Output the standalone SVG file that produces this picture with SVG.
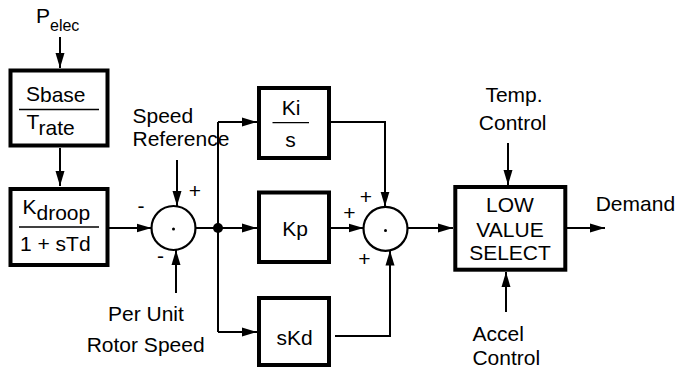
<svg xmlns="http://www.w3.org/2000/svg" width="678" height="369" viewBox="0 0 678 369">
<style>
  text { font-family: "Liberation Sans", Arial, sans-serif; font-size: 21px; fill: #000; }
  .blk { fill: #fff; stroke: #000; stroke-width: 4; }
  .frac { stroke: #000; stroke-width: 1.3; }
  .sum { fill: #fff; stroke: #000; stroke-width: 2.2; }
  .ln { fill: none; stroke: #000; stroke-width: 2; }
  .arr { fill: none; stroke: #000; stroke-width: 2; marker-end: url(#ah); }
  .mid { text-anchor: middle; }
</style>
<defs>
  <marker id="ah" markerUnits="userSpaceOnUse" markerWidth="16" markerHeight="10" refX="15" refY="5" orient="auto">
    <path d="M0,0.5 L15,5 L0,9.5 Z" fill="#000"/>
  </marker>
</defs>

<g id="connectors">
  <line class="arr" x1="60" y1="37" x2="60" y2="68"/>
  <line class="arr" x1="60" y1="148" x2="60" y2="186"/>
  <line class="arr" x1="109" y1="228" x2="151.5" y2="228"/>
  <line class="arr" x1="177" y1="160" x2="177" y2="206"/>
  <line class="arr" x1="176" y1="293" x2="176" y2="250"/>
  <line class="ln" x1="196" y1="228" x2="218" y2="228"/>
  <polyline class="ln" points="218,122 218,332"/>
  <line class="arr" x1="218" y1="122" x2="257" y2="122"/>
  <line class="arr" x1="218" y1="228" x2="257" y2="228"/>
  <line class="arr" x1="218" y1="332" x2="257" y2="332"/>
  <polyline class="arr" points="331,122 385,122 385,206.5"/>
  <line class="arr" x1="331" y1="228" x2="363.5" y2="228"/>
  <polyline class="arr" points="335,336 390,336 390,250.5"/>
  <line class="arr" x1="407.5" y1="228" x2="453" y2="228"/>
  <line class="arr" x1="508" y1="143" x2="508" y2="185"/>
  <line class="arr" x1="506" y1="312" x2="506" y2="272"/>
  <line class="arr" x1="567" y1="228" x2="605" y2="228"/>
</g>

<g id="pelec">
  <text x="36" y="23">P<tspan font-size="16" dy="8">elec</tspan></text>
</g>

<g id="sbase-trate">
  <rect class="blk" x="10.5" y="70.5" width="97" height="75"/>
  <text x="26" y="101">S<tspan dy="1">base</tspan></text>
  <line class="frac" x1="19" y1="109.5" x2="99" y2="109.5"/>
  <text x="26.5" y="128.5">T<tspan dy="6">rate</tspan></text>
</g>

<g id="kdroop">
  <rect class="blk" x="10.5" y="189" width="97" height="76"/>
  <text x="22.5" y="213.5">K<tspan dy="6">droop</tspan></text>
  <line class="frac" x1="19" y1="227" x2="99" y2="227"/>
  <text x="20" y="251">1 + sTd</text>
</g>

<g id="sum1">
  <circle class="sum" cx="173.5" cy="228" r="22"/>
  <circle cx="173.5" cy="229" r="1.5" fill="#000"/>
  <text class="mid" x="141" y="212.5">-</text>
  <text class="mid" x="195" y="198">+</text>
  <text class="mid" x="160.5" y="262.5">-</text>
</g>

<g id="junction">
  <circle cx="218" cy="228" r="5" fill="#000"/>
</g>

<g id="speed-ref">
  <text x="132.5" y="123.3">Speed</text>
  <text x="132.5" y="145.7">Reference</text>
</g>

<g id="rotor-speed">
  <text x="108" y="320.7">Per Unit</text>
  <text x="86.7" y="351.7">Rotor Speed</text>
</g>

<g id="ki">
  <rect class="blk" x="259" y="88" width="70" height="70"/>
  <text class="mid" x="291" y="115">Ki</text>
  <line class="frac" x1="272.5" y1="122.7" x2="309" y2="122.7"/>
  <text class="mid" x="290.5" y="147">s</text>
</g>

<g id="kp">
  <rect class="blk" x="259" y="192.5" width="70" height="69.5"/>
  <text class="mid" x="295" y="236">Kp</text>
</g>

<g id="skd">
  <rect class="blk" x="259" y="298" width="70" height="67"/>
  <text class="mid" x="294.7" y="345">sKd</text>
</g>

<g id="sum2">
  <circle class="sum" cx="385.5" cy="228.8" r="22"/>
  <circle cx="385.5" cy="230.5" r="1.5" fill="#000"/>
  <text class="mid" x="366" y="204">+</text>
  <text class="mid" x="349.3" y="220">+</text>
  <text class="mid" x="364.3" y="266.3">+</text>
</g>

<g id="lvs">
  <rect class="blk" x="455.3" y="187" width="110" height="82.7"/>
  <text class="mid" x="510" y="211.7" font-size="20">LOW</text>
  <text class="mid" x="510" y="236.7" font-size="20">VALUE</text>
  <text class="mid" x="510" y="260" font-size="20">SELECT</text>
</g>

<g id="temp-control">
  <text class="mid" x="514" y="101.7">Temp.</text>
  <text class="mid" x="512.7" y="130">Control</text>
</g>

<g id="accel-control">
  <text class="mid" x="498.3" y="340.5">Accel</text>
  <text class="mid" x="506.3" y="365">Control</text>
</g>

<g id="demand">
  <text x="595.7" y="210.7">Demand</text>
</g>
</svg>
